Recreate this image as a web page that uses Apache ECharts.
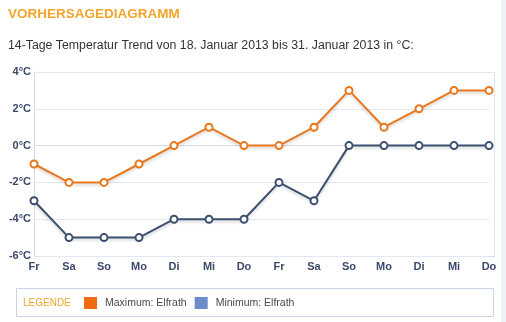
<!DOCTYPE html>
<html><head><meta charset="utf-8">
<script src="https://cdn.jsdelivr.net/npm/echarts@6/dist/echarts.min.js"></script>
<style>html,body{margin:0;padding:0;background:#fff}#c{width:506px;height:322px}</style>
</head><body><div id="c"></div>
<script>
const days = ['Fr','Sa','So','Mo','Di','Mi','Do','Fr','Sa','So','Mo','Di','Mi','Do'];
const maxTemps = [-1,-2,-2,-1,0,1,0,0,1,3,1,2,3,3];
const minTemps = [-3,-5,-5,-5,-4,-4,-4,-2,-3,0,0,0,0,0];
const seriesNames = ['Maximum: Elfrath','Minimum: Elfrath'];

const chart = echarts.init(document.getElementById('c'), null, {renderer:'canvas'});
const ff = 'Arial, "Liberation Sans", sans-serif';
const gridCol = '#e3e8f0';
chart.setOption({
  animation:false,
  textStyle:{fontFamily:ff},
  title:[
    {text:'VORHERSAGEDIAGRAMM', left:8, top:7, padding:0, textStyle:{fontFamily:ff,fontSize:13.5,fontWeight:'bold',color:'#f2a52c'}},
    {text:'14-Tage Temperatur Trend von 18. Januar 2013 bis 31. Januar 2013 in °C:', left:8, top:40, padding:0, textStyle:{fontFamily:ff,fontSize:12.3,fontWeight:'normal',color:'#333'}}
  ],
  grid:{left:34,right:17,top:72,bottom:66},
  legend:{
    left:84, top:297, padding:0, itemWidth:13, itemHeight:12, itemGap:8, icon:'rect',
    textStyle:{fontFamily:ff,fontSize:10.5,color:'#4a4a4a',padding:[0,0,0,3]},
    data:[
      {name:seriesNames[0], itemStyle:{color:'#f26a10',borderWidth:0}},
      {name:seriesNames[1], itemStyle:{color:'#6a8cc8',borderWidth:0}}
    ]
  },
  xAxis:{
    type:'category', data:days, boundaryGap:false,
    axisLine:{lineStyle:{color:'#d5dce8'}},
    axisTick:{show:false},
    axisLabel:{color:'#3b4a6b',fontSize:11,fontWeight:'bold',margin:5,fontFamily:ff},
    splitLine:{show:false}
  },
  yAxis:{
    type:'value', min:-6, max:4, interval:2,
    axisLine:{show:true,lineStyle:{color:'#d5dce8'}},
    axisTick:{show:false},
    axisLabel:{color:'#3b4a6b',fontSize:11,fontWeight:'bold',margin:3,fontFamily:ff,formatter:v=>v+'°C'},
    splitLine:{show:true,lineStyle:{color:[gridCol,gridCol,gridCol,'#b3c0d6',gridCol,gridCol],width:1}}
  },
  series:[
    {name:seriesNames[0], type:'line', data:maxTemps, symbol:'circle', symbolSize:7,
     lineStyle:{color:'#e8771e',width:2,shadowColor:'rgba(0,0,0,0.18)',shadowBlur:3,shadowOffsetY:2},
     itemStyle:{color:'#fff',borderColor:'#e8771e',borderWidth:2}},
    {name:seriesNames[1], type:'line', data:minTemps, symbol:'circle', symbolSize:7,
     lineStyle:{color:'#3d4f6f',width:2,shadowColor:'rgba(0,0,0,0.18)',shadowBlur:3,shadowOffsetY:2},
     itemStyle:{color:'#fff',borderColor:'#3d4f6f',borderWidth:2}}
  ],
  graphic:[
    {type:'rect', shape:{x:501,y:0,width:5,height:322}, style:{fill:'#eef2f8'}, z:-1},
    {type:'line', shape:{x1:494.5,y1:72,x2:494.5,y2:256}, style:{stroke:'#dfe5ee',lineWidth:1}},
    {type:'line', shape:{x1:489,y1:72.5,x2:494.5,y2:72.5}, style:{stroke:gridCol,lineWidth:1}},
    {type:'line', shape:{x1:489,y1:256.5,x2:494.5,y2:256.5}, style:{stroke:'#d5dce8',lineWidth:1}},
    {type:'rect', shape:{x:16.5,y:288.5,width:477,height:28}, style:{fill:'none',stroke:'#c9d5e6',lineWidth:1}},
    {type:'text', left:23, top:298, style:{text:'LEGENDE',fill:'#f2a52c',font:'10px '+ff}}
  ]
});
</script></body></html>
